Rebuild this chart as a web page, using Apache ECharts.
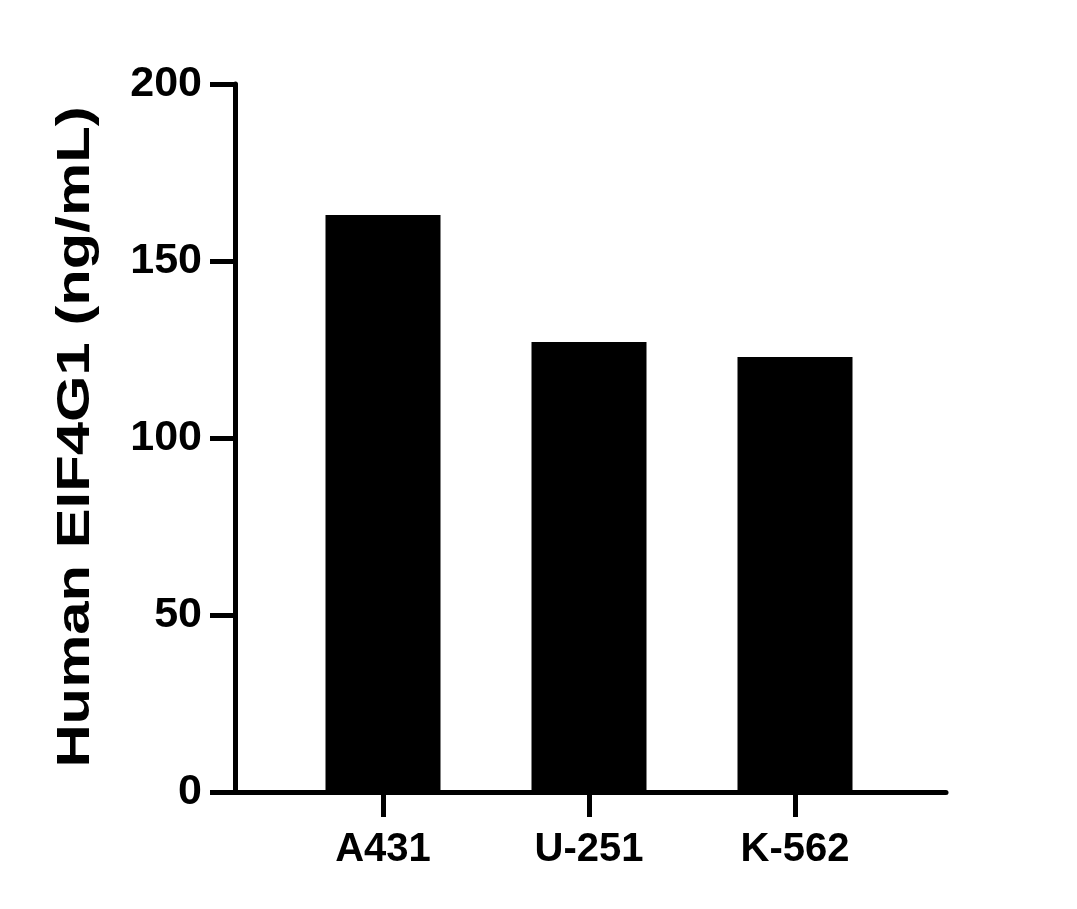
<!DOCTYPE html>
<html>
<head>
<meta charset="utf-8">
<script src="https://cdn.jsdelivr.net/npm/echarts@6/dist/echarts.min.js"></script>
<style>html,body{margin:0;padding:0;background:#fff}#c{width:1077px;height:909px}</style>
</head>
<body>
<div id="c"></div>
<script>
var categories = ['A431', 'U-251', 'K-562'];
var values = [163.0, 127.1, 122.9];
var yTicks = [0, 50, 100, 150, 200];
var yTitle = 'Human EIF4G1 (ng/mL)';

var FONT = "'Liberation Sans', Arial, sans-serif";
var chart = echarts.init(document.getElementById('c'), null, {renderer: 'canvas'});
chart.setOption({
  backgroundColor: '#fff',
  animation: false,
  grid: [
    {left: 235, right: 131, top: 84, bottom: 117},
    {left: 280, right: 179, top: 84, bottom: 117}
  ],
  xAxis: [
    {gridIndex: 0, type: 'value', min: 0, max: 1,
     axisLine: {show: true, lineStyle: {color: '#000', width: 5}},
     axisTick: {show: false}, axisLabel: {show: false}, splitLine: {show: false}},
    {gridIndex: 1, type: 'category', data: categories,
     axisLine: {show: false},
     axisTick: {show: true, alignWithLabel: true, length: 25, lineStyle: {color: '#000', width: 5}},
     axisLabel: {color: '#000', fontFamily: FONT, fontWeight: 'bold', fontSize: 40, margin: 38},
     splitLine: {show: false}}
  ],
  yAxis: [
    {gridIndex: 0, type: 'value', min: yTicks[0], max: yTicks[yTicks.length - 1], interval: 50,
     axisLine: {show: true, lineStyle: {color: '#000', width: 5}},
     axisTick: {show: true, length: 25, lineStyle: {color: '#000', width: 5}},
     axisLabel: {color: '#000', fontFamily: FONT, fontWeight: 'bold', fontSize: 43, margin: 33},
     splitLine: {show: false}},
    {gridIndex: 1, type: 'value', min: yTicks[0], max: yTicks[yTicks.length - 1], show: false}
  ],
  series: [{
    type: 'bar', xAxisIndex: 1, yAxisIndex: 1,
    data: values, barWidth: 115,
    itemStyle: {color: '#000'}
  }],
  graphic: [{
    type: 'text', x: 76, y: 437, rotation: Math.PI / 2, scaleX: 1.3,
    style: {text: yTitle, font: 'bold 46px ' + FONT, fill: '#000', textAlign: 'center', textVerticalAlign: 'middle'}
  }]
});
</script>
</body>
</html>
